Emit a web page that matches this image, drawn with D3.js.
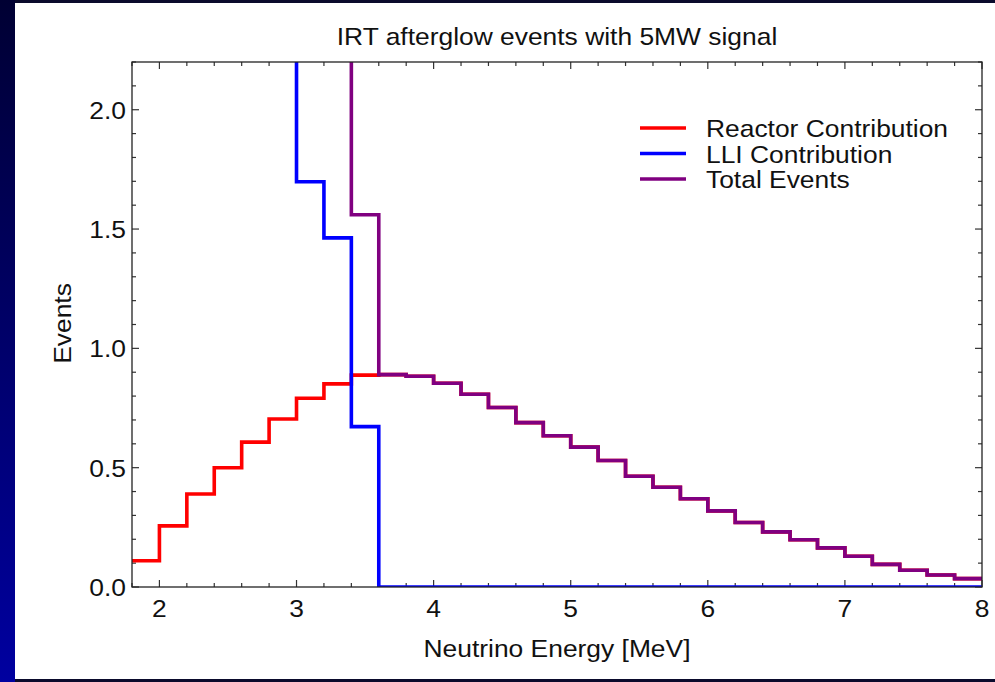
<!DOCTYPE html>
<html>
<head>
<meta charset="utf-8">
<script src="https://cdn.jsdelivr.net/npm/d3@7"></script>
<style>
  body { margin: 0; padding: 0; background: #fff; }
  text { font-family: "Liberation Sans", Arial, sans-serif; fill: #111; font-size: 24px; }
</style>
</head>
<body>
<div id="chart"></div>
<script>
// bin edges of the histogram (MeV), 0.2 MeV wide
const binEdges = [1.8, 2.0, 2.2, 2.4, 2.6, 2.8, 3.0, 3.2, 3.4, 3.6, 3.8, 4.0, 4.2, 4.4, 4.6, 4.8,
    5.0, 5.2, 5.4, 5.6, 5.8, 6.0, 6.2, 6.4, 6.6, 6.8, 7.0, 7.2, 7.4, 7.6, 7.8, 8.0];

// events per bin (31 bins)
const reactorEvents = [0.11, 0.256, 0.39, 0.50, 0.607, 0.704, 0.791, 0.851, 0.888, 0.890, 0.883,
    0.854, 0.808, 0.752, 0.689, 0.634, 0.586, 0.530, 0.464, 0.418, 0.370, 0.319, 0.270, 0.231,
    0.198, 0.164, 0.129, 0.095, 0.070, 0.050, 0.035];
// LLI bins below 3.0 MeV run off the top of the plot
const lliEvents = [6.0, 5.0, 4.2, 3.4, 2.8, 2.3, 1.698, 1.463, 0.672, 0, 0,
    0, 0, 0, 0, 0, 0, 0, 0, 0, 0, 0, 0, 0, 0, 0, 0, 0, 0, 0, 0];
const totalEvents = [6.11, 5.256, 4.59, 3.90, 3.407, 3.004, 2.489, 2.314, 1.560, 0.890, 0.883,
    0.854, 0.808, 0.752, 0.689, 0.634, 0.586, 0.530, 0.464, 0.418, 0.370, 0.319, 0.270, 0.231,
    0.198, 0.164, 0.129, 0.095, 0.070, 0.050, 0.035];

const seriesNames = ["Reactor Contribution", "LLI Contribution", "Total Events"];
const seriesColors = ["#ff0000", "#0000ff", "#800080"];

const xMajorTicks = [2, 3, 4, 5, 6, 7, 8];
const yMajorTicks = [0.0, 0.5, 1.0, 1.5, 2.0];

const W = 995, H = 682;
const margin = {top: 62, right: 13, bottom: 95, left: 132};
const width = W - margin.left - margin.right;
const height = H - margin.top - margin.bottom;
const stretch = 1.1; // the original lettering is a bit wide

const svg = d3.select("#chart").append("svg")
    .attr("width", W)
    .attr("height", H)
    .style("display", "block");

// slide frame: dark blue gradient strip on the left, thin dark bars top and bottom
const defs = svg.append("defs");
const grad = defs.append("linearGradient")
    .attr("id", "frameGrad")
    .attr("x1", 0).attr("y1", 0).attr("x2", 0).attr("y2", 1);
grad.append("stop").attr("offset", "0%").attr("stop-color", "#000033");
grad.append("stop").attr("offset", "100%").attr("stop-color", "#0000a0");

svg.append("rect").attr("x", 0).attr("y", 0).attr("width", W).attr("height", H).attr("fill", "#0a0a2c");
svg.append("rect").attr("x", 0).attr("y", 0).attr("width", 15).attr("height", H).attr("fill", "url(#frameGrad)");
svg.append("rect").attr("x", 15).attr("y", 3).attr("width", W - 15).attr("height", H - 6).attr("fill", "#fff");

defs.append("clipPath").attr("id", "plotClip")
    .append("rect").attr("width", width).attr("height", height);

const g = svg.append("g").attr("transform", `translate(${margin.left},${margin.top})`);

const x = d3.scaleLinear().domain([1.8, 8]).range([0, width]);
const y = d3.scaleLinear().domain([0, 2.2]).range([height, 0]);

// minor ticks
const xMinor = d3.range(1.8, 8.001, 0.2).map(v => +v.toFixed(1)).filter(v => !xMajorTicks.includes(v));
const yMinor = d3.range(0, 2.201, 0.1).map(v => +v.toFixed(1)).filter(v => !yMajorTicks.includes(v));

const tickColor = "#333";
function addTicks(sel, scale, values, len, orient) {
    sel.selectAll(null).data(values).enter().append("line")
        .attr("stroke", tickColor)
        .attr("stroke-width", 1.2)
        .each(function(d) {
            const p = scale(d);
            const l = d3.select(this);
            if (orient === "bottom") l.attr("x1", p).attr("x2", p).attr("y1", height).attr("y2", height - len);
            if (orient === "top") l.attr("x1", p).attr("x2", p).attr("y1", 0).attr("y2", len);
            if (orient === "left") l.attr("y1", p).attr("y2", p).attr("x1", 0).attr("x2", len);
            if (orient === "right") l.attr("y1", p).attr("y2", p).attr("x1", width).attr("x2", width - len);
        });
}

const ticks = g.append("g").attr("class", "ticks");
["bottom", "top"].forEach(o => {
    addTicks(ticks, x, xMajorTicks, 7, o);
    addTicks(ticks, x, xMinor, 4, o);
});
["left", "right"].forEach(o => {
    addTicks(ticks, y, yMajorTicks, 7, o);
    addTicks(ticks, y, yMinor, 4, o);
});

// histogram lines
const stepLine = d3.line()
    .x(d => x(d[0]))
    .y(d => y(d[1]))
    .curve(d3.curveStepAfter);

function toSteps(vals) {
    // last value repeated so the final bin reaches 8 MeV
    return binEdges.map((e, i) => [e, vals[Math.min(i, vals.length - 1)]]);
}

const lines = g.append("g").attr("clip-path", "url(#plotClip)");
[reactorEvents, lliEvents, totalEvents].forEach((vals, i) => {
    lines.append("path")
        .datum(toSteps(vals))
        .attr("fill", "none")
        .attr("stroke", seriesColors[i])
        .attr("stroke-width", 3.6)
        .attr("stroke-linejoin", "miter")
        .attr("d", stepLine);
});

// frame
g.append("rect")
    .attr("width", width)
    .attr("height", height)
    .attr("fill", "none")
    .attr("stroke", "#222")
    .attr("stroke-width", 1.3);

// text helper: place at (px,py), stretched horizontally
function label(parent, px, py, txt, anchor, rot) {
    const r = rot ? ` rotate(${rot})` : "";
    return parent.append("text")
        .attr("transform", `translate(${px},${py})${r} scale(${stretch},1)`)
        .attr("text-anchor", anchor || "start")
        .text(txt);
}

// tick labels
xMajorTicks.forEach(d => label(g, x(d), height + 30, d, "middle"));
yMajorTicks.forEach(d => label(g, -6, y(d) + 9, d.toFixed(1), "end"));

// title and axis labels
label(svg, margin.left + width / 2, 45, "IRT afterglow events with 5MW signal", "middle");
label(svg, margin.left + width / 2, 657, "Neutrino Energy [MeV]", "middle");
label(svg, 71, margin.top + height / 2 - 1, "Events", "middle", -90);

// legend
const legend = svg.append("g").attr("transform", "translate(640,128)");
seriesNames.forEach((name, i) => {
    const row = legend.append("g").attr("transform", `translate(0,${i * 25.5})`);
    row.append("line")
        .attr("x1", 0).attr("x2", 46)
        .attr("y1", 0).attr("y2", 0)
        .attr("stroke", seriesColors[i])
        .attr("stroke-width", 3.6);
    label(row, 66, 9, name, "start");
});
</script>
</body>
</html>
